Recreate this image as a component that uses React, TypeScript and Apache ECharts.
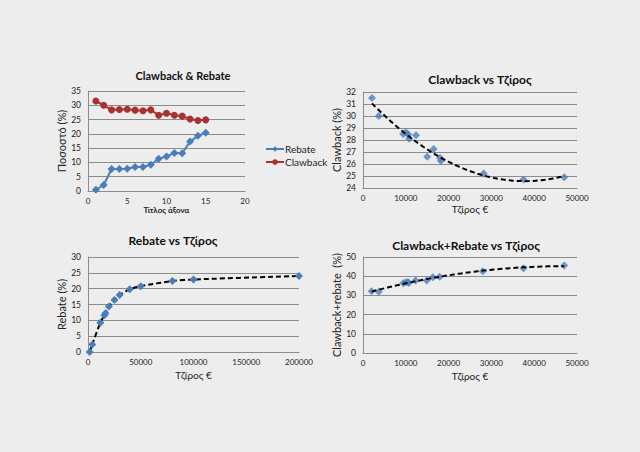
import React, { useEffect, useRef } from 'react';
import * as echarts from 'echarts';

// Chart 1: Clawback & Rebate (index 1..15)
const pharmacyIndex = [1, 2, 3, 4, 5, 6, 7, 8, 9, 10, 11, 12, 13, 14, 15];
const rebateSeries = [0.4, 2.1, 7.7, 7.7, 7.8, 8.4, 8.4, 9.2, 11.3, 12.1, 13.3, 13.2, 17.3, 19.3, 20.4];
const clawbackSeries = [31.5, 30.0, 28.4, 28.5, 28.6, 28.3, 28.1, 28.4, 26.5, 27.2, 26.5, 26.2, 25.2, 24.7, 24.9];

// Chart 2: Clawback vs Τζίρος
const clawTurnover = [2100, 3700, 9400, 10000, 10600, 10800, 12400, 15000, 16500, 18000, 18200, 28200, 37500, 47000];
const clawValues = [31.5, 30.0, 28.5, 28.65, 28.45, 28.1, 28.4, 26.6, 27.25, 26.5, 26.25, 25.2, 24.7, 24.9];

// Chart 3: Rebate vs Τζίρος
const rebTurnover = [1600, 4000, 11700, 15500, 16500, 19800, 25000, 30000, 39500, 50000, 80000, 100000, 200000];
const rebValues = [0, 2.4, 9.2, 11.6, 12.2, 14.4, 16.4, 18.0, 19.8, 20.8, 22.4, 22.9, 24.0];

// Chart 4: Clawback+Rebate vs Τζίρος
const sumTurnover = [2000, 3700, 9400, 10000, 10500, 10700, 12300, 14900, 16300, 17900, 28000, 37500, 47000];
const sumValues = [32.1, 31.9, 36.3, 36.9, 37.0, 36.5, 37.8, 37.7, 39.4, 39.7, 42.6, 44.1, 45.6];

const FONT = 'Lato, "Noto Sans", sans-serif';
const BLUE = '#4a7ebb';
const RED = '#a83232';
const GRID = '#8c8c8c';

function quadFit(xs: number[], ys: number[]) {
  const s = 1e-4;
  const S = [0, 0, 0, 0, 0];
  const T = [0, 0, 0];
  xs.forEach((x0, i) => {
    const x = x0 * s;
    for (let k = 0; k < 5; k++) S[k] += Math.pow(x, k);
    for (let k = 0; k < 3; k++) T[k] += Math.pow(x, k) * ys[i];
  });
  const A = [
    [S[0], S[1], S[2], T[0]],
    [S[1], S[2], S[3], T[1]],
    [S[2], S[3], S[4], T[2]],
  ];
  for (let c = 0; c < 3; c++) {
    for (let r = c + 1; r < 3; r++) {
      const f = A[r][c] / A[c][c];
      for (let k = c; k < 4; k++) A[r][k] -= f * A[c][k];
    }
  }
  const b = [0, 0, 0];
  for (let r = 2; r >= 0; r--) {
    let v = A[r][3];
    for (let k = r + 1; k < 3; k++) v -= A[r][k] * b[k];
    b[r] = v / A[r][r];
  }
  const lo = Math.min(...xs);
  const hi = Math.max(...xs);
  const pts: number[][] = [];
  const n = 60;
  for (let i = 0; i <= n; i++) {
    const x0 = lo + ((hi - lo) * i) / n;
    const x = x0 * s;
    pts.push([x0, b[0] + b[1] * x + b[2] * x * x]);
  }
  return pts;
}

const zip = (a: number[], b: number[]) => a.map((v, i) => [v, b[i]]);
const plain = (v: number) => String(v);

function xAxis(gridIndex: number, max: number, interval: number, name: string, nameGap: number, bold = false, nameSize = 10) {
  return {
    type: 'value',
    gridIndex,
    min: 0,
    max,
    interval,
    name,
    nameLocation: 'middle',
    nameGap,
    nameTextStyle: { fontFamily: FONT, fontSize: nameSize, color: '#222', fontWeight: bold ? 'bold' : 'normal' },
    axisLine: { show: true, onZero: false, lineStyle: { color: GRID, width: 1 } },
    axisTick: { show: false },
    splitLine: { show: false },
    axisLabel: { fontFamily: FONT, fontSize: 8, color: '#222', margin: 6, formatter: plain },
  };
}

function yAxis(gridIndex: number, min: number, max: number, interval: number, name: string, nameGap: number) {
  return {
    type: 'value',
    gridIndex,
    min,
    max,
    interval,
    name,
    nameLocation: 'middle',
    nameGap,
    nameTextStyle: { fontFamily: FONT, fontSize: 11, color: '#222' },
    axisLine: { show: true, lineStyle: { color: GRID, width: 1 } },
    axisTick: { show: false },
    splitLine: { show: true, lineStyle: { color: GRID, width: 1 } },
    axisLabel: { fontFamily: FONT, fontSize: 8.5, color: '#222', margin: 7, formatter: plain },
  };
}

function title(text: string, x: number, y: number, size: number) {
  return {
    type: 'text',
    x,
    y,
    style: {
      text,
      fill: '#111',
      font: `bold ${size}px ${FONT}`,
      textAlign: 'center',
      textVerticalAlign: 'middle',
      align: 'center',
      verticalAlign: 'middle',
    },
  };
}

export default function App() {
  const ref = useRef<HTMLDivElement>(null);
  useEffect(() => {
    if (!ref.current) return;
    const chart = echarts.init(ref.current, undefined, { renderer: 'svg' });
    const scatterBase = {
      type: 'scatter',
      symbol: 'diamond',
      symbolSize: 8,
      itemStyle: { color: BLUE },
      z: 3,
    };
    const trendBase = {
      type: 'line',
      showSymbol: false,
      symbol: 'none',
      lineStyle: { color: '#000', width: 2, type: [5, 3] },
      z: 4,
    };
    chart.setOption({
      animation: false,
      backgroundColor: '#ededed',
      grid: [
        { left: 88, top: 91, width: 157, height: 100 },
        { left: 363, top: 92, width: 214, height: 96 },
        { left: 88, top: 257, width: 211, height: 95 },
        { left: 363, top: 257, width: 214, height: 96 },
      ],
      xAxis: [
        xAxis(0, 20, 5, 'Τίτλος άξονα', 15, true, 8),
        xAxis(1, 50000, 10000, 'Τζίρος €', 16),
        xAxis(2, 200000, 50000, 'Τζίρος €', 18),
        xAxis(3, 50000, 10000, 'Τζίρος €', 18),
      ],
      yAxis: [
        yAxis(0, 0, 35, 5, 'Ποσοστό (%)', 20),
        yAxis(1, 24, 32, 1, 'Clawback (%)', 20),
        yAxis(2, 0, 30, 5, 'Rebate (%)', 20),
        yAxis(3, 0, 50, 10, 'Clawback+rebate  (%)', 20),
      ],
      legend: {
        orient: 'vertical',
        left: 260,
        top: 139,
        itemWidth: 18,
        itemHeight: 7,
        itemGap: 3,
        textStyle: { fontFamily: FONT, fontSize: 10, color: '#222', padding: [0, 0, 0, -4] },
        data: ['Rebate', 'Clawback'],
      },
      graphic: [
        title('Clawback & Rebate', 183, 75, 11),
        title('Clawback vs Τζίρος', 480, 79, 12),
        title('Rebate vs Τζίρος', 173, 240, 12),
        title('Clawback+Rebate vs Τζίρος', 466, 245, 12),
      ],
      series: [
        {
          name: 'Rebate',
          type: 'line',
          xAxisIndex: 0,
          yAxisIndex: 0,
          data: zip(pharmacyIndex, rebateSeries),
          symbol: 'diamond',
          symbolSize: 8,
          itemStyle: { color: BLUE },
          lineStyle: { color: BLUE, width: 2 },
        },
        {
          name: 'Clawback',
          type: 'line',
          xAxisIndex: 0,
          yAxisIndex: 0,
          data: zip(pharmacyIndex, clawbackSeries),
          symbol: 'circle',
          symbolSize: 7,
          itemStyle: { color: RED },
          lineStyle: { color: RED, width: 2 },
        },
        { ...scatterBase, xAxisIndex: 1, yAxisIndex: 1, data: zip(clawTurnover, clawValues) },
        { ...trendBase, xAxisIndex: 1, yAxisIndex: 1, data: quadFit(clawTurnover, clawValues) },
        {
          type: 'line',
          xAxisIndex: 2,
          yAxisIndex: 2,
          data: zip(rebTurnover, rebValues),
          smooth: 0.3,
          symbol: 'diamond',
          symbolSize: 8,
          itemStyle: { color: BLUE },
          lineStyle: { color: '#000', width: 2, type: [5, 3] },
        },
        { ...scatterBase, xAxisIndex: 3, yAxisIndex: 3, data: zip(sumTurnover, sumValues) },
        { ...trendBase, xAxisIndex: 3, yAxisIndex: 3, data: quadFit(sumTurnover, sumValues) },
      ],
    });
    return () => chart.dispose();
  }, []);
  return <div ref={ref} style={{ position: 'absolute', left: 0, top: 0, width: 640, height: 452 }} />;
}
